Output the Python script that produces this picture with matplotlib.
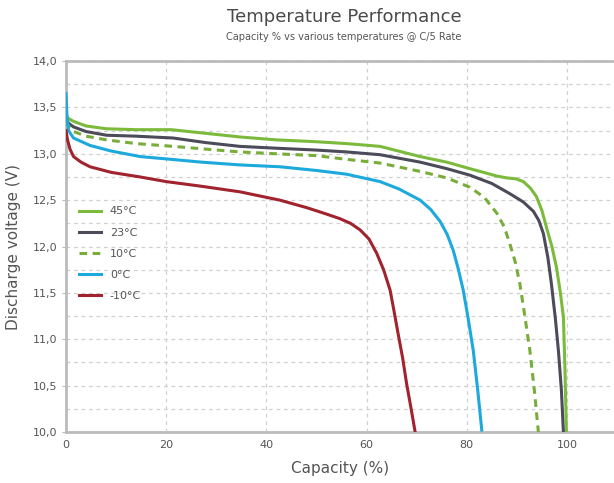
import matplotlib.pyplot as plt
from matplotlib.ticker import FuncFormatter, MultipleLocator

# Data
cap_45 = [0, 0.5, 1.5, 4, 8, 14, 21, 28, 35, 42, 50, 56, 62.7, 70.7, 76, 80.6, 84, 86, 88, 89.8, 91.3, 92.7, 93.9, 95, 95.9, 97, 97.9, 98.7, 99.3, 99.6, 99.9]
v_45 = [13.42, 13.38, 13.35, 13.3, 13.27, 13.26, 13.26, 13.22, 13.18, 13.15, 13.13, 13.11, 13.08, 12.97, 12.91, 12.84, 12.79, 12.76, 12.74, 12.73, 12.70, 12.63, 12.54, 12.39, 12.21, 12.0, 11.78, 11.5, 11.24, 10.7, 10.0]

cap_23 = [0, 0.5, 1.5, 4, 8.1, 14, 21.4, 28, 34.7, 42, 50, 56, 62.7, 70.7, 76, 80.6, 85, 88.6, 91.3, 93.3, 94.4, 95.3, 96.2, 96.9, 97.7, 98.3, 98.9, 99.3]
v_23 = [13.38, 13.33, 13.29, 13.24, 13.2, 13.19, 13.17, 13.12, 13.08, 13.06, 13.04, 13.02, 12.99, 12.91, 12.84, 12.77, 12.68, 12.57, 12.48, 12.38, 12.28, 12.14, 11.88, 11.6, 11.22, 10.88, 10.45, 10.0]

cap_10 = [0, 0.5, 1.5, 4, 8.1, 14, 21.4, 28, 34.7, 42, 50, 56, 62.7, 70.7, 76, 80.6, 83.5, 86, 87.5, 88.6, 89.7, 90.6, 91.6, 92.6, 93.5, 94.3]
v_10 = [13.35, 13.3, 13.24, 13.19, 13.15, 13.11, 13.08, 13.05, 13.02, 13.0, 12.98, 12.94, 12.9, 12.81, 12.74, 12.64, 12.53, 12.36, 12.21, 12.03, 11.83, 11.60, 11.25, 10.88, 10.45, 10.0]

cap_0 = [0, 0.2, 0.5, 1.5, 4.8, 9, 14.8, 21, 27, 34.7, 42.7, 50, 56, 62.7, 66.5, 70.7, 72.8, 74.7, 76.1, 77.3, 78.3, 79.3, 80.3, 81.3, 82.2, 83.0]
v_0 = [13.65, 13.4, 13.25, 13.17, 13.09, 13.03, 12.97, 12.94, 12.91, 12.88, 12.86, 12.82, 12.78, 12.70, 12.62, 12.50, 12.40, 12.27, 12.13, 11.96, 11.76, 11.53, 11.22, 10.88, 10.45, 10.02]

cap_m10 = [0, 0.3, 0.8, 1.5, 3, 4.8, 9, 14.8, 20, 27, 34.7, 42.7, 48, 52, 54.7, 56.8, 58.7, 60.5, 62, 63.4, 64.7, 65.5, 66.3, 67.2, 68.0, 68.9, 69.7]
v_m10 = [13.25, 13.15, 13.05, 12.97, 12.91, 12.86, 12.8, 12.75, 12.7, 12.65, 12.59, 12.50, 12.42, 12.35, 12.30, 12.25, 12.18, 12.08, 11.93, 11.75, 11.53, 11.3, 11.06, 10.8, 10.52, 10.25, 10.0]

series = [
    ("45°C", cap_45, v_45, "#7cba3c", "-"),
    ("23°C", cap_23, v_23, "#4b4b5a", "-"),
    ("10°C", cap_10, v_10, "#78ad3a", (0, (2.5, 1.8))),
    ("0°C", cap_0, v_0, "#1ca9dc", "-"),
    ("-10°C", cap_m10, v_m10, "#a1232e", "-"),
]

text_col = "#555555"
grid_col = "#d0d0d0"

fig = plt.figure(figsize=(6.14, 4.83), dpi=100)
ax = fig.add_axes([0.1075, 0.1056, 0.8925, 0.768])

for name, x, y, col, ls in series:
    ax.plot(x, y, color=col, linestyle=ls, linewidth=2.2, label=name, zorder=3,
            solid_joinstyle="round")

ax.set_xlim(0, 109.4)
ax.set_ylim(10.0, 14.0)
ax.xaxis.set_major_locator(MultipleLocator(20))
ax.yaxis.set_major_locator(MultipleLocator(0.5))
ax.yaxis.set_minor_locator(MultipleLocator(0.25))
ax.yaxis.set_major_formatter(FuncFormatter(lambda v, p: f"{v:.1f}".replace(".", ",")))

ax.grid(True, which="major", axis="x", linestyle=(0, (3, 3)), color=grid_col, linewidth=0.9)
ax.grid(True, which="both", axis="y", linestyle=(0, (3, 3)), color=grid_col, linewidth=0.9)
ax.set_axisbelow(True)

for side in ["left", "bottom", "top"]:
    ax.spines[side].set_color("#bbbbbb")
    ax.spines[side].set_linewidth(2)
ax.spines["right"].set_visible(False)

ax.tick_params(axis="both", which="major", colors="#bbbbbb", labelcolor=text_col,
               labelsize=8, length=3)
ax.tick_params(axis="y", which="minor", length=0)
ax.tick_params(axis="x", length=0, pad=6)

ax.set_xlabel("Capacity (%)", fontsize=11, color=text_col, labelpad=8)
ax.set_ylabel("Discharge voltage (V)", fontsize=11, color=text_col, labelpad=8)

fig.text(0.56, 0.955, "Temperature Performance", ha="center", fontsize=13, color="#4a4a4a")
fig.text(0.56, 0.918, "Capacity % vs various temperatures @ C/5 Rate", ha="center",
         fontsize=7, color=text_col)

leg = ax.legend(loc="upper left", bbox_to_anchor=(0.005, 0.635), frameon=False,
                fontsize=8, labelcolor=text_col, handlelength=2.0, labelspacing=1.0)

fig.savefig("out.png", dpi=100)
